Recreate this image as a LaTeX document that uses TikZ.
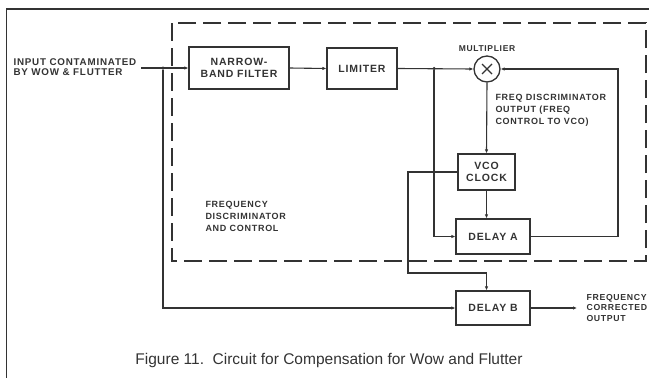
\documentclass[tikz,border=0pt]{standalone}
\usepackage{fontspec}
\setmainfont{Liberation Sans}
\newfontfamily\lblfont[LetterSpace=8]{Liberation Sans Bold}
\usetikzlibrary{arrows.meta, positioning, calc}

\begin{document}
\begin{tikzpicture}[
    x=1pt, y=-1pt,
    every node/.style={font=\lblfont, text=black!80},
    boxtext/.style={font=\lblfont\fontsize{10.5}{12}\selectfont},
    smalltext/.style={font=\lblfont\fontsize{9}{12}\selectfont, align=left},
    tinytext/.style={font=\lblfont\fontsize{8.5}{12}\selectfont, align=left},
    block/.style={
        draw=black!80,
        line width=1.3pt,
        inner sep=0pt,
        align=center,
        boxtext
    },
    mixer/.style={
        draw=black!80,
        circle,
        line width=1.3pt,
        minimum size=26pt,
        inner sep=0pt
    },
    wire/.style={draw=black!80, line width=1.1pt},
    arrow/.style={wire, -{Latex[length=4pt, width=3.5pt]}},
    dot/.style={circle, fill=black!80, inner sep=0pt, minimum size=3.5pt}
]

\useasboundingbox (0,0) rectangle (649,378);

% frame
\draw[wire] (649,9) -- (6.5,9) -- (6.5,378);

% dashed region
\draw[draw=black!80, line width=1.1pt, dash pattern=on 18pt off 7pt]
    (172,23) rectangle (646,261);

% blocks
\node[block, minimum width=100pt, minimum height=42pt] (filter) at (239,68) {NARROW-\\BAND FILTER};
\node[block, minimum width=70pt, minimum height=41pt] (limiter) at (362,68.5) {LIMITER};
\node[mixer] (mult) at (487,69) {};
\draw[wire, line width=1.3pt] (mult.center) ++(-5,-5) -- ++(10,10);
\draw[wire, line width=1.3pt] (mult.center) ++(-5,5) -- ++(10,-10);
\node[block, minimum width=57pt, minimum height=36pt] (vco) at (486.5,172) {VCO\\CLOCK};
\node[block, minimum width=74pt, minimum height=35pt] (delayA) at (493,236.5) {DELAY A};
\node[block, minimum width=74pt, minimum height=34pt] (delayB) at (493,308) {DELAY B};

% labels
\node[smalltext, anchor=west, font=\lblfont\fontsize{9.8}{10.5}\selectfont] (input) at (10,67)
    {INPUT CONTAMINATED\\BY WOW \& FLUTTER};
\node[tinytext, anchor=south] (multlbl) at (487,55) {MULTIPLIER};
\node[smalltext, anchor=north west] (fdlbl) at (492,91)
    {FREQ DISCRIMINATOR\\OUTPUT (FREQ\\CONTROL TO VCO)};
\node[tinytext, anchor=north west, font=\lblfont\fontsize{9}{12}\selectfont] (ctrllbl) at (202,198)
    {FREQUENCY\\DISCRIMINATOR\\AND CONTROL};
\node[smalltext, anchor=west, font=\lblfont\fontsize{8.7}{10.5}\selectfont] (outlbl) at (583,308)
    {FREQUENCY\\CORRECTED\\OUTPUT};
\node[anchor=base, font=\fontsize{15.5}{18}\selectfont, text=black!80] (caption) at (329,364)
    {Figure 11.\ \ Circuit for Compensation for Wow and Flutter};

% junctions and bends
\coordinate (inend) at (141,68);
\node[dot] (j1) at (163,68) {};
\node[dot] (j2) at (434,68.5) {};
\coordinate (rt) at (618,69);
\coordinate (lp) at (408,273);
\coordinate (outend) at (577,308);

% connections
\draw[arrow] (inend) -- (filter.west);
\draw[arrow] (filter.east) -- (limiter.west);
\draw[arrow] (limiter.east) -- (mult.west);
\draw[arrow] (j1) |- (delayB.west);
\draw[arrow] (j2) |- (delayA.west);
\draw[arrow] (delayA.east) -| (rt) -- (mult.east);
\draw[arrow] (mult.south) -- (vco.north);
\draw[arrow] (vco.south) -- (vco.south |- delayA.north);
\draw[arrow] (vco.west) -| (lp) -| (vco.south |- delayB.north);
\draw[arrow] (delayB.east) -- (outend);

\end{tikzpicture}
\end{document}
